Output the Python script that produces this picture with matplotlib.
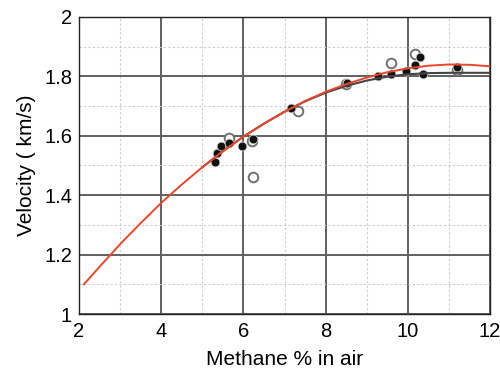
import matplotlib.pyplot as plt
from matplotlib.ticker import MultipleLocator

plt.rcParams['font.family'] = ['Liberation Sans', 'DejaVu Sans']

# red fit curve
red_x = [2.12, 2.5, 3, 3.5, 4, 4.5, 5, 5.5, 6, 6.5, 7, 7.5, 8, 8.5, 9, 9.5, 10, 10.5, 11, 11.5, 12]
red_v = [1.10, 1.159, 1.235, 1.306, 1.374, 1.436, 1.494, 1.548, 1.597, 1.641, 1.681, 1.717,
         1.748, 1.774, 1.796, 1.814, 1.827, 1.836, 1.840, 1.839, 1.834]

# black fit curve
black_x = [5, 5.5, 6, 6.5, 7, 7.5, 8, 8.5, 9, 9.5, 10, 10.5, 11, 11.5, 12]
black_v = [1.494, 1.548, 1.597, 1.641, 1.681, 1.716, 1.745, 1.768, 1.786, 1.799, 1.807, 1.811, 1.812, 1.812, 1.812]

# measured points
filled_x = [5.31, 5.36, 5.46, 5.66, 5.97, 6.24, 7.16, 8.52, 9.27, 9.6, 9.95, 10.17, 10.29, 10.37, 11.19]
filled_v = [1.513, 1.542, 1.566, 1.575, 1.567, 1.589, 1.694, 1.778, 1.80, 1.807, 1.817, 1.837, 1.864, 1.807, 1.83]

open_x = [5.64, 6.22, 6.23, 7.32, 8.5, 9.6, 10.17, 11.2]
open_v = [1.594, 1.583, 1.46, 1.683, 1.775, 1.844, 1.875, 1.82]

fig = plt.figure(figsize=(5, 3.69), dpi=100)
ax = fig.add_axes([0.158, 0.149, 0.822, 0.805])

ax.xaxis.set_major_locator(MultipleLocator(2))
ax.xaxis.set_minor_locator(MultipleLocator(1))
ax.yaxis.set_major_locator(MultipleLocator(0.2))
ax.yaxis.set_minor_locator(MultipleLocator(0.1))
ax.grid(which='major', color='#606060', linewidth=1.4)
ax.grid(which='minor', color='#cccccc', linewidth=0.8, linestyle=(0, (2, 2)))
ax.set_axisbelow(True)

ax.scatter(open_x, open_v, s=48, facecolors='white', edgecolors='#707070', linewidths=1.4, zorder=3)
ax.scatter(filled_x, filled_v, s=40, color='#111111', edgecolors='#d0d0d0', linewidths=0.6, zorder=4)
ax.plot(black_x, black_v, color='#444444', linewidth=1.5, zorder=5)
ax.plot(red_x, red_v, color='#e8472a', linewidth=1.4, zorder=6)

ax.set_xlim(2, 12)
ax.set_ylim(1, 2)
ax.set_xticks([2, 4, 6, 8, 10, 12])
ax.set_xticklabels(['2', '4', '6', '8', '10', '12'])
ax.set_yticks([1, 1.2, 1.4, 1.6, 1.8, 2])
ax.set_yticklabels(['1', '1.2', '1.4', '1.6', '1.8', '2'])
ax.tick_params(which='both', length=0, labelsize=14.5)
ax.tick_params(axis='x', pad=6)
ax.tick_params(axis='y', pad=5)
for s in ax.spines.values():
    s.set_color('#222222')
    s.set_linewidth(1.0)

ax.set_xlabel('Methane % in air', fontsize=15, labelpad=6)
ax.set_ylabel('Velocity ( km/s)', fontsize=15, labelpad=6)

fig.savefig('out.png', dpi=100)
